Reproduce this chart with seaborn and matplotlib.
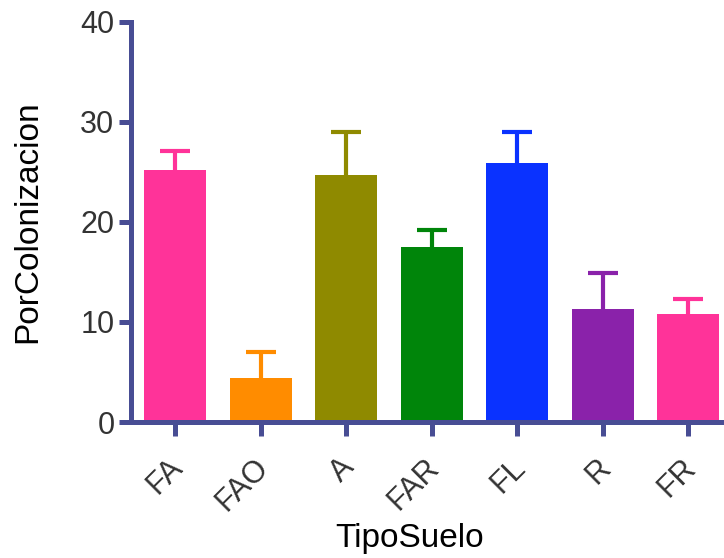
import numpy as np
import seaborn as sns
import matplotlib.pyplot as plt
import matplotlib.transforms as mtransforms

# values
suelos = ['FA', 'FAO', 'A', 'FAR', 'FL', 'R', 'FR']
colonizacion = [25.2, 4.4, 24.7, 17.5, 25.9, 11.3, 10.8]
error_sup = [1.9, 2.6, 4.3, 1.7, 3.1, 3.6, 1.5]
colores = ['#ff3399', '#ff8c00', '#8f8a00', '#00850a', '#0a32ff', '#8a22aa', '#ff3399']

eje = '#484d94'

sns.set_style('white')
plt.rcParams['font.family'] = ['Liberation Sans', 'DejaVu Sans']

fig = plt.figure(figsize=(7.24, 5.58), dpi=100)
ax = fig.add_axes([0.181, 0.2437, 0.819, 0.717])

sns.barplot(x=suelos, y=colonizacion, hue=suelos, palette=colores,
            legend=False, width=0.725, saturation=1, linewidth=0, ax=ax)
for p in ax.patches:
    p.set_zorder(3)

# upper error bars only; the lower half hides inside the bar
for i, (v, e, c) in enumerate(zip(colonizacion, error_sup, colores)):
    ax.errorbar(i, v, yerr=[[min(e, v)], [e]], fmt='none', ecolor=c,
                elinewidth=3, capsize=11, capthick=3, zorder=2)

ax.set_xlim(-0.515, 6.42)
ax.set_ylim(0, 40)
ax.set_yticks([0, 10, 20, 30, 40])

for s in ['top', 'right']:
    ax.spines[s].set_visible(False)
for s in ['left', 'bottom']:
    ax.spines[s].set_color(eje)
    ax.spines[s].set_linewidth(3.6)
    ax.spines[s].set_zorder(4)

ax.tick_params(axis='y', length=9, width=3.6, color=eje, labelsize=22,
               labelcolor='#333333', left=True, pad=3)
ax.tick_params(axis='x', length=10, width=3.6, color=eje, labelsize=22,
               labelcolor='#333333', bottom=True, pad=10)
shift = mtransforms.ScaledTranslation(-0.07, -0.03, fig.dpi_scale_trans)
for lab in ax.get_xticklabels():
    lab.set_rotation(45)
    lab.set_ha('right')
    lab.set_rotation_mode('anchor')
    lab.set_transform(lab.get_transform() + shift)

ax.set_ylabel('PorColonizacion', fontsize=24, color='black')
ax.set_xlabel('TipoSuelo', fontsize=24, color='black')
ax.yaxis.set_label_coords(-0.175, 0.5)
ax.xaxis.set_label_coords(0.47, -0.29)
ax.xaxis.label.set_va('center')
ax.yaxis.label.set_va('center')

fig.savefig('out.png', dpi=100)
